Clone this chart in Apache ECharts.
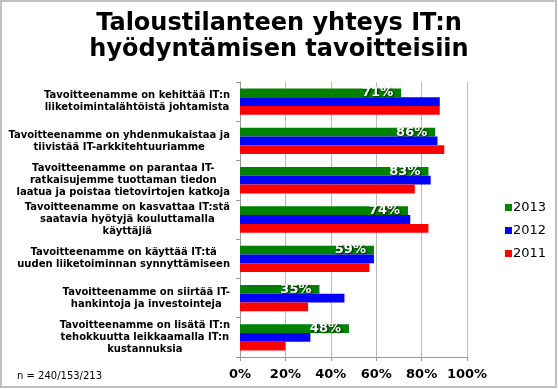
<!DOCTYPE html>
<html><head><meta charset="utf-8">
<script src="https://cdn.jsdelivr.net/npm/echarts@6/dist/echarts.min.js"></script>
<style>html,body{margin:0;padding:0;background:#fff}#c{width:558px;height:389px}</style>
</head><body><div id="c"></div>
<script>
const categories = [
  "Tavoitteenamme on kehittää IT:n\nliiketoimintalähtöistä johtamista",
  "Tavoitteenamme on yhdenmukaistaa ja\ntiivistää IT-arkkitehtuuriamme",
  "Tavoitteenamme on parantaa IT-\nratkaisujemme tuottaman tiedon\nlaatua ja poistaa tietovirtojen katkoja",
  "Tavoitteenamme on kasvattaa IT:stä\nsaatavia hyötyjä kouluttamalla\nkäyttäjiä",
  "Tavoitteenamme on käyttää IT:tä\nuuden liiketoiminnan synnyttämiseen",
  "Tavoitteenamme on siirtää IT-\nhankintoja ja investointeja",
  "Tavoitteenamme on lisätä IT:n\ntehokkuutta leikkaamalla IT:n\nkustannuksia"
];
const values2013 = [71, 86, 83, 74, 59, 35, 48];
const values2012 = [88, 87, 84, 75, 59, 46, 31];
const values2011 = [88, 90, 77, 83, 57, 30, 20];
const seriesNames = ["2013", "2012", "2011"];
const titleText = "Taloustilanteen yhteys IT:n\nhyödyntämisen tavoitteisiin";
const noteText = "n = 240/153/213";

const font = "DejaVu Sans, Verdana, sans-serif";
const chart = echarts.init(document.getElementById('c'), null, {renderer: 'canvas'});
chart.setOption({
  animation: false,
  backgroundColor: '#fff',
  textStyle: {fontFamily: font},
  graphic: [{type: 'rect', shape: {x: 1, y: 1, width: 555, height: 386}, style: {fill: 'none', stroke: '#c0c0c0', lineWidth: 2}, silent: true}],
  title: [
    {text: titleText, left: 'center', top: 6, textStyle: {fontSize: 24, fontWeight: 'bold', color: '#000', lineHeight: 26, fontFamily: font}},
    {text: noteText, left: 12, top: 366, textStyle: {fontSize: 10, fontWeight: 'normal', color: '#000', fontFamily: font}}
  ],
  legend: {
    orient: 'vertical', left: 500, top: 196, itemWidth: 7, itemHeight: 7, itemGap: 10,
    icon: 'rect', data: seriesNames,
    textStyle: {fontSize: 13, color: '#000', fontFamily: font, padding: [0, 0, 0, -4]}
  },
  grid: {left: 240, right: 91, top: 82, bottom: 32, containLabel: false},
  xAxis: {
    type: 'value', min: 0, max: 100, interval: 20,
    axisLine: {show: true, lineStyle: {color: '#999'}},
    axisTick: {show: true, length: 4, lineStyle: {color: '#999'}},
    splitLine: {show: true, lineStyle: {color: '#bbb', width: 1}},
    axisLabel: {formatter: '{value}%', fontSize: 13, fontWeight: 'bold', color: '#000', margin: 11, fontFamily: font}
  },
  yAxis: {
    type: 'category', inverse: true, data: categories,
    axisLine: {show: true, lineStyle: {color: '#999'}},
    axisTick: {show: true, length: 4, lineStyle: {color: '#999'}},
    axisLabel: {
      margin: 10, align: 'right',
      formatter: v => v.split('\n').map(l => '{c|' + l + '}').join('\n'),
      rich: {c: {align: 'center', fontSize: 10, fontWeight: 'bold', color: '#000', lineHeight: 12, fontFamily: font}}
    }
  },
  series: [
    {name: seriesNames[0], type: 'bar', data: values2013, itemStyle: {color: '#008000'}, barGap: '0%', barCategoryGap: '33%',
     label: {show: true, position: 'insideRight', distance: 8, formatter: '{c}%', color: '#fff', fontSize: 13, fontWeight: 'bold', fontFamily: font,
       textShadowColor: 'rgba(0,0,0,0.8)', textShadowBlur: 2, textShadowOffsetX: 1, textShadowOffsetY: 1}},
    {name: seriesNames[1], type: 'bar', data: values2012, itemStyle: {color: '#0000ff'}, barGap: '0%', barCategoryGap: '33%'},
    {name: seriesNames[2], type: 'bar', data: values2011, itemStyle: {color: '#ff0000'}, barGap: '0%', barCategoryGap: '33%'}
  ]
});
</script></body></html>
